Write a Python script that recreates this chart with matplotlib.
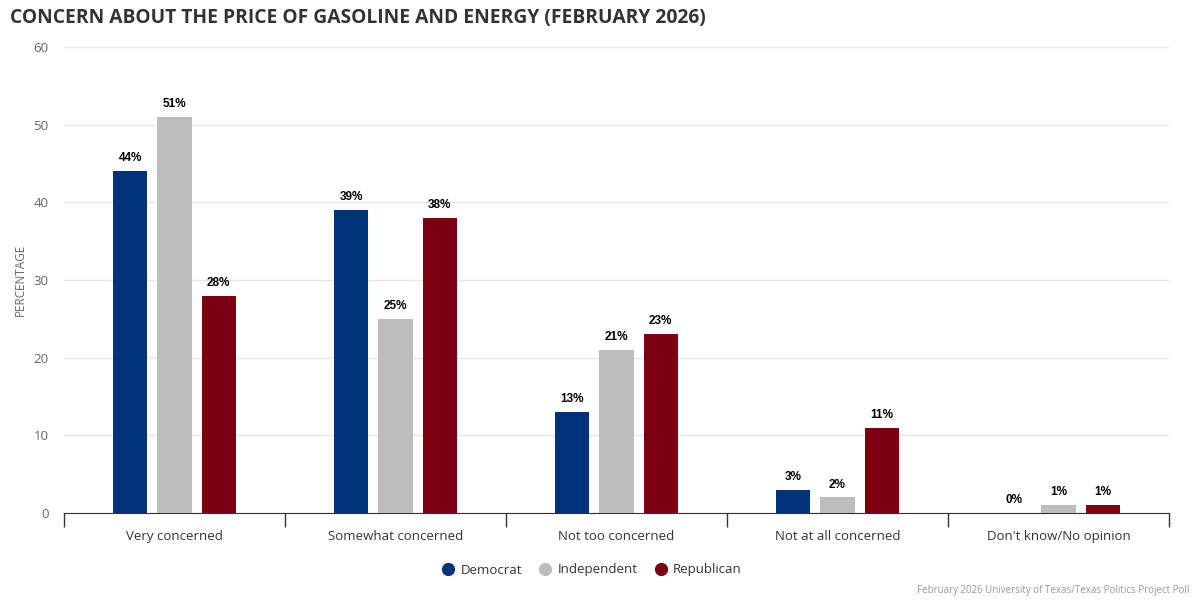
import matplotlib.pyplot as plt
import numpy as np
from matplotlib.lines import Line2D

categories = ["Very concerned", "Somewhat concerned", "Not too concerned",
              "Not at all concerned", "Don't know/No opinion"]
series = ["Democrat", "Independent", "Republican"]
democrat = [44, 39, 13, 3, 0]
independent = [51, 25, 21, 2, 1]
republican = [28, 38, 23, 11, 1]
colors = ["#00337a", "#bdbdbd", "#7a0012"]

plt.rcParams['font.family'] = ['Open Sans', 'DejaVu Sans']

fig = plt.figure(figsize=(12, 6), dpi=100)
ax = fig.add_axes([64/1200, 87/600, 1105/1200, 466/600])

x = np.arange(len(categories))
width = 0.155
offsets = [-0.2, 0, 0.2]
for vals, off, col in zip([democrat, independent, republican], offsets, colors):
    bars = ax.bar(x + off, vals, width, color=col, zorder=3)
    for b, v in zip(bars, vals):
        ax.annotate(f"{v}%", (b.get_x() + b.get_width()/2, v), xytext=(0, 5),
                    textcoords="offset points", ha="center", va="bottom",
                    fontsize=8.5, fontweight="bold", family=['Liberation Sans', 'DejaVu Sans'],
                    color="#000000", zorder=4)

ax.set_xlim(-0.5, len(categories) - 0.5)
ax.set_ylim(0, 60)
ax.set_yticks(range(0, 61, 10))
ax.grid(axis="y", color="#e6e6e6", linewidth=1, zorder=0)
for s in ["top", "right", "left"]:
    ax.spines[s].set_visible(False)
ax.spines["bottom"].set_color("#333333")
ax.tick_params(axis="y", length=0, labelsize=9.5, labelcolor="#666666", pad=11)

ax.set_xticks(np.arange(-0.5, len(categories), 1), minor=False)
ax.set_xticklabels([])
ax.tick_params(axis="x", which="major", length=10, color="#333333", width=1)
ax.set_xticks(x, minor=True)
ax.set_xticklabels(categories, minor=True)
ax.tick_params(axis="x", which="minor", length=0, labelsize=9.5, labelcolor="#333333", pad=12)

ax.set_ylabel("PERCENTAGE", fontsize=8.5, color="#666666")
ax.yaxis.set_label_coords(-37/1105, 0.5)

fig.text(10/1200, 1 - 18/600, "CONCERN ABOUT THE PRICE OF GASOLINE AND ENERGY (FEBRUARY 2026)",
         fontsize=13.9, fontweight="bold", color="#333333", va="center", ha="left")

handles = [Line2D([], [], marker="o", linestyle="", markersize=8.5, color=c) for c in colors]
fig.legend(handles, series, loc="center", bbox_to_anchor=(590/1200, 1 - 570/600), ncol=3,
           frameon=False, fontsize=9.5, labelcolor="#333333", handletextpad=0.2,
           columnspacing=1.0, handlelength=1.5)

fig.text(1189/1200, 1 - 591/600, "February 2026 University of Texas/Texas Politics Project Poll",
         fontsize=7, color="#999999", ha="right", va="center")

fig.savefig("out.png", dpi=100)
